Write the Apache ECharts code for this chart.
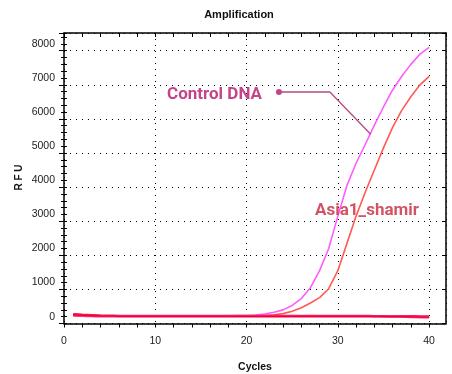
<!DOCTYPE html>
<html><head><meta charset="utf-8">
<script src="https://cdn.jsdelivr.net/npm/echarts@6/dist/echarts.min.js"></script>
<style>html,body{margin:0;padding:0;background:#fff}#c{width:452px;height:374px}</style>
</head><body><div id="c"></div>
<script>
const cycles = [1,2,3,4,5,6,7,8,9,10,11,12,13,14,15,16,17,18,19,20,21,22,23,24,25,26,27,28,29,30,31,32,33,34,35,36,37,38,39,40];
const controlDNA = [55,40,30,25,22,20,20,20,20,20,20,20,20,20,20,22,24,26,30,35,45,80,130,200,330,530,850,1350,2000,2950,3850,4500,5050,5620,6150,6650,7050,7400,7700,7900];
const asia1Shamir = [40,30,25,20,18,15,15,15,15,15,15,15,15,15,15,15,16,18,20,22,25,35,55,90,160,260,400,560,820,1350,2150,2950,3650,4300,4950,5550,6050,6450,6800,7050];
const baseline1 = [75,55,40,32,26,22,20,20,20,20,20,20,20,20,20,20,20,20,20,20,20,20,20,20,20,20,20,20,20,20,20,18,18,16,15,14,12,10,8,5];
const baseline2 = [35,25,18,14,12,10,10,10,10,10,10,10,10,10,10,10,10,10,10,10,10,10,10,10,10,10,10,10,10,10,10,10,10,10,8,5,0,-10,-15,-20];
const baseline3 = [55,40,28,22,18,15,14,14,14,14,14,14,14,14,14,14,14,14,14,14,14,14,14,14,14,14,14,14,14,14,14,14,14,12,10,6,2,-5,-10,-12];
const xTickLabels = [0,10,20,30,40];
const yTickLabels = [0,1000,2000,3000,4000,5000,6000,7000,8000];
const controlLeader = [[23.55,6590],[29.13,6590],[33.6,5350]];
const asiaLabelPos = [[33.2,3110]];

const pair = a => a.map((v,i)=>[cycles[i], v]);
const narrow = "'Liberation Sans',Arial,sans-serif";
const dotted = {show:true, lineStyle:{color:'#000', width:1, type:[1,5]}};
const X = {min:0, max:41.85};
const Y = {min:-200, max:8320};

const chart = echarts.init(document.getElementById('c'), null, {renderer:'canvas'});
chart.setOption({
  animation:false,
  backgroundColor:'#fff',
  title:{text:'Amplification', left:234, top:4, textAlign:'center',
    textStyle:{fontFamily:narrow, fontSize:11, fontWeight:'bold', color:'#111'}},
  grid:{left:64, right:6, top:33, bottom:50.5, containLabel:false},
  xAxis:[
    {type:'value', ...X, interval:2, position:'bottom',
     axisLine:{onZero:false, lineStyle:{color:'#000', width:1.5}},
     axisTick:{show:true, inside:false, length:4, lineStyle:{color:'#000'}},
     axisLabel:{margin:12, fontFamily:narrow, fontSize:10.5, color:'#222',
       formatter:v => xTickLabels.includes(v) ? String(v) : '', showMaxLabel:false},
     splitLine:{show:false}},
    {type:'value', ...X, interval:2, position:'top',
     axisLine:{onZero:false, lineStyle:{color:'#000', width:1.5}},
     axisTick:{show:true, inside:true, length:4, lineStyle:{color:'#000'}},
     axisLabel:{show:false}, splitLine:{show:false}},
    {type:'value', ...X, interval:10, position:'bottom',
     axisLine:{show:false, onZero:false}, axisTick:{show:false}, axisLabel:{show:false},
     splitLine:dotted}
  ],
  yAxis:[
    {type:'value', ...Y, interval:200, position:'left',
     axisLine:{show:true, onZero:false, lineStyle:{color:'#000', width:1.5}},
     axisTick:{show:true, inside:false, length:3, lineStyle:{color:'#000'}},
     axisLabel:{margin:9, fontFamily:narrow, fontSize:10.5, color:'#222',
       formatter:v => yTickLabels.includes(v) ? String(v) : '', showMaxLabel:false, showMinLabel:false},
     splitLine:{show:false}},
    {type:'value', ...Y, interval:200, position:'left',
     axisLine:{show:false, onZero:false},
     axisTick:{show:true, inside:true, length:3, lineStyle:{color:'#000'}},
     axisLabel:{show:false}, splitLine:{show:false}},
    {type:'value', ...Y, interval:1000, position:'left',
     axisLine:{show:false, onZero:false},
     axisTick:{show:true, inside:false, length:5, lineStyle:{color:'#000'}},
     axisLabel:{show:false}, splitLine:dotted},
    {type:'value', ...Y, interval:1000, position:'right',
     axisLine:{show:true, onZero:false, lineStyle:{color:'#000', width:1.5}},
     axisTick:{show:true, inside:true, length:4, lineStyle:{color:'#000'}},
     axisLabel:{show:false}, splitLine:{show:false}}
  ],
  graphic:[
    {type:'text', x:255, y:367, style:{text:'Cycles', font:'bold 10.5px '+narrow, fill:'#111', align:'center', verticalAlign:'middle'}},
    {type:'text', x:19, y:177.5, rotation:Math.PI/2, style:{text:'R F U', font:'bold 10px '+narrow, fill:'#111', align:'center', verticalAlign:'middle'}}
  ],
  series:[
    {name:'Control DNA', type:'line', data:pair(controlDNA), showSymbol:false, smooth:false,
     lineStyle:{color:'#ff5cff', width:1.6, join:'round'}, itemStyle:{color:'#ff5cff'}, z:3},
    {name:'Asia1_shamir', type:'line', data:pair(asia1Shamir), showSymbol:false, smooth:false,
     lineStyle:{color:'#ff5a55', width:1.6, join:'round'}, itemStyle:{color:'#ff5a55'}, z:3},
    {name:'NTC1', type:'line', data:pair(baseline1), showSymbol:false, smooth:0.3,
     lineStyle:{color:'#ff1048', width:2.5}, z:4},
    {name:'NTC2', type:'line', data:pair(baseline2), showSymbol:false, smooth:0.3,
     lineStyle:{color:'#ff3a78', width:2.5}, z:4},
    {name:'NTC3', type:'line', data:pair(baseline3), showSymbol:false, smooth:0.3,
     lineStyle:{color:'#f0003a', width:1.5}, z:4},
    {name:'leader', type:'line', data:controlLeader, showSymbol:true, symbol:'circle',
     symbolSize:(v,p)=>p.dataIndex===0?6:0,
     lineStyle:{color:'#b8497f', width:1.3}, itemStyle:{color:'#c0468a'}, z:6,
     label:{show:true, position:'left', distance:14, offset:[0,3],
       formatter:p=>p.dataIndex===0?'Control DNA':'',
       fontFamily:'Roboto, sans-serif', fontSize:17, fontWeight:'bold', color:'#c4448a'}},
    {name:'asiaLabel', type:'scatter', data:asiaLabelPos, symbolSize:0, z:6,
     label:{show:true, position:'inside', formatter:'Asia1_shamir',
       fontFamily:'Roboto, sans-serif', fontSize:17, fontWeight:'bold', color:'#c8283c'}}
  ]
});
</script></body></html>
